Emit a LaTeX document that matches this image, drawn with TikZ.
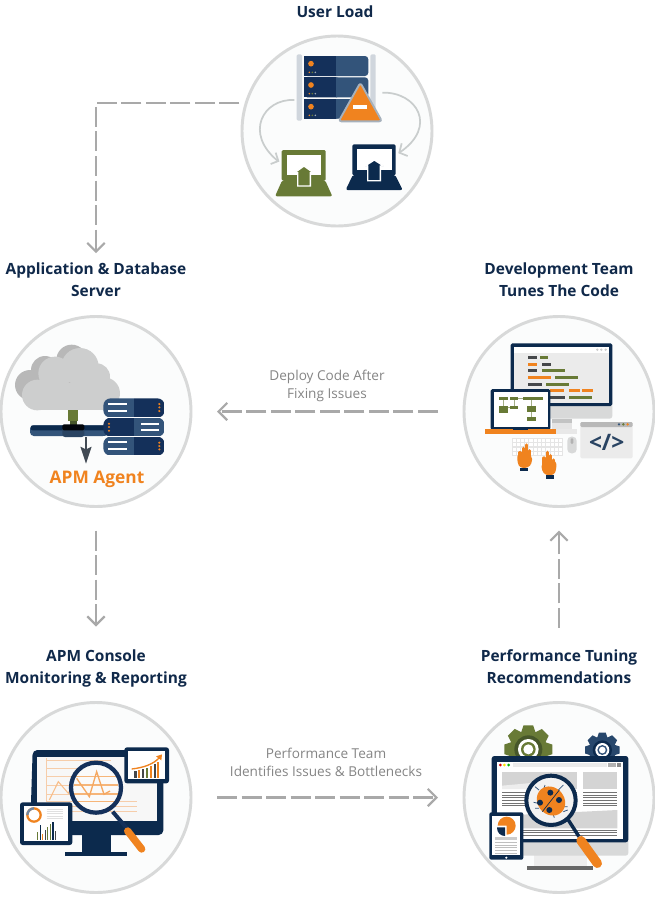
\documentclass[tikz,border=0pt]{standalone}
\usepackage{fontspec}
\setmainfont{Open Sans}
\usetikzlibrary{arrows.meta}
\definecolor{navy}{HTML}{0C2A4D}
\definecolor{midnavy}{HTML}{14305A}
\definecolor{steel}{HTML}{33547A}
\definecolor{olive}{HTML}{687A36}
\definecolor{darkolive}{HTML}{47572A}
\definecolor{apmorange}{HTML}{F0831F}
\definecolor{ringgrey}{HTML}{D8D9D9}
\definecolor{flowgrey}{HTML}{A9A9A9}
\definecolor{labelgrey}{HTML}{858585}
\definecolor{titlenavy}{HTML}{10294A}
\definecolor{curvegrey}{HTML}{C9CDCD}
\definecolor{darkbar}{HTML}{45474A}
\definecolor{paleline}{HTML}{F6CDAA}
\definecolor{ringfill}{HTML}{FBFCFC}
\tikzset{
  ring/.style={circle,draw=ringgrey,line width=2.2pt,fill=ringfill,minimum size=142.5pt,inner sep=0pt,outer sep=0pt},
  title/.style={font=\fontsize{11.6pt}{16.5pt}\selectfont\bfseries,text=titlenavy,align=center,inner sep=0pt},
  flowlabel/.style={font=\fontsize{10.2pt}{13.6pt}\selectfont,text=labelgrey,align=center,inner sep=0pt},
  flow/.style={draw=flowgrey,line width=1.6pt,dash pattern=on 15pt off 3.4pt,-{Straight Barb[length=6.5pt,width=13pt]}},
  crop/.style 2 args={shift={(#1,#2)},x=0.25pt,y=-0.25pt},
}
\newcommand{\rb}[5]{\fill[#1] (#2,#3) rectangle (#4,#5);}
\newcommand{\gearicon}[4]{%
  \begin{scope}[shift={(#1,#2)}]
    \foreach \a in {0,45,...,315}{\fill[#4,rotate=\a] ({-0.2*#3},{-#3}) -- ({0.2*#3},{-#3}) -- ({0.3*#3},{-0.7*#3}) -- ({-0.3*#3},{-0.7*#3}) -- cycle;}
    \fill[#4] (0,0) circle ({0.78*#3});
  \end{scope}}
\newcommand{\handicon}{%
  \foreach \fx/\fy in {195/428,205/415,214/405,224/422}{\draw[apmorange,line width=2.5pt,line cap=round] (\fx,450) -- (\fx,\fy);}
  \fill[apmorange,rounded corners=2.5pt] (187,430) -- (231,436) -- (231,460) -- (219,474) -- (195,474) -- (187,458) -- cycle;
  \rb{navy}{195}{473}{219}{484}}
\begin{document}
\begin{tikzpicture}[x=0.75pt,y=-0.75pt]
\useasboundingbox (0,0) rectangle (655,900);
\fill[white] (0,0) rectangle (655,900);

% circles
\node[ring] (load) at (337,131) {};
\node[ring] (app) at (96,411.5) {};
\node[ring] (dev) at (559,411.5) {};
\node[ring] (console) at (96,797.5) {};
\node[ring] (perf) at (559,797.5) {};

% titles
\node[title] (tload) at (335,12) {User Load};
\node[title] (tapp) at (96,279.5) {Application \& Database\\Server};
\node[title] (tdev) at (559,279.5) {Development Team\\Tunes The Code};
\node[title] (tconsole) at (96,668.3) {APM Console\\Monitoring \& Reporting};
\node[title] (tperf) at (559,666.5) {Performance Tuning\\Recommendations};
\node[flowlabel] (ldeploy) at (327,386) {Deploy Code After\\Fixing Issues};
\node[flowlabel] (lperf) at (326,762) {Performance Team\\Identifies Issues \& Bottlenecks};

% connectors
\draw[flow,shorten <=5pt,shorten >=47.6pt] (load.163) -| (app.north);
\draw[flow,shorten <=19.5pt,shorten >=19.5pt] (dev.west) -- (app.east);
\draw[flow,shorten <=18pt,shorten >=57pt] (app.south) -- (console.north);
\draw[flow,shorten <=19.5pt,shorten >=19.5pt] (console.east) -- (perf.west);
\draw[flow,shorten <=56pt,shorten >=18pt] (perf.north) -- (dev.south);

% ---------- User load icon
\begin{scope}[crop={230}{20}]
  \draw[curvegrey,line width=1.3pt] (193,240) .. controls (100,235) and (40,340) .. (145,424);
  \draw[curvegrey,line width=1.3pt] (122,432) -- (145,423) -- (137,398);
  \draw[curvegrey,line width=1.3pt] (457,218) .. controls (560,215) and (625,320) .. (508,398);
  \draw[curvegrey,line width=1.3pt] (533,408) -- (508,398) -- (515,370);
  \fill[ringgrey!60!steel!45!white,rounded corners=1pt] (200,103) rectangle (216,302);
  \fill[ringgrey!60!steel!45!white,rounded corners=1pt] (421,103) rectangle (437,302);
  \foreach \ya/\yb in {108/168,172/232,237/296}{
    \fill[midnavy,rounded corners=2.5pt] (222,\ya) rectangle (330,\yb);
    \fill[steel,rounded corners=2.5pt] (310,\ya) rectangle (415,\yb);
    \rb{midnavy}{222}{\ya}{318}{\yb}
    \fill[apmorange] (243,\ya+23) circle (8.5);
    \fill[apmorange] (238,\ya+49) circle (2.6);
    \fill[olive] (247,\ya+49) circle (2.6);
    \fill[curvegrey!70!steel] (256,\ya+49) circle (2.6);
  }
  \fill[apmorange,draw=ringgrey!70!steel,line width=1.4pt,line join=round,rounded corners=2pt] (391,188) -- (456,304) -- (326,304) -- cycle;
  \rb{white}{370}{254}{412}{267}
  % green laptop
  \fill[olive,rounded corners=1pt] (155,390) rectangle (287,482);
  \rb{white}{170}{404}{274}{466}
  \fill[olive,rounded corners=1.5pt] (157,480) -- (285,480) -- (307,529) -- (135,529) -- cycle;
  \fill[olive,draw=white,line width=1pt] (222,438) -- (250,458) -- (241,458) -- (241,498) -- (203,498) -- (203,458) -- (194,458) -- cycle;
  % navy laptop
  \fill[navy,rounded corners=1pt] (367,373) rectangle (497,466);
  \rb{white}{382}{386}{485}{450}
  \fill[navy,rounded corners=1.5pt] (369,464) -- (495,464) -- (518,510) -- (347,510) -- cycle;
  \fill[navy,draw=white,line width=1pt] (433,420) -- (461,438) -- (451,438) -- (451,482) -- (413,482) -- (413,438) -- (405,438) -- cycle;
\end{scope}

% ---------- App server icon
\begin{scope}[crop={0}{310}]
  \fill[ringgrey!85!black] (90,225) circle (45) (135,180) circle (42) (215,150) circle (46);
  \rb{ringgrey!85!black}{90}{200}{240}{270}
  \fill[ringgrey!95!black] (112,255) circle (46) (165,190) circle (50) (240,170) circle (56) (312,250) circle (48) (290,200) circle (40);
  \rb{ringgrey!95!black}{112}{220}{312}{301}
  \rb{olive}{205}{300}{235}{333}
  \rb{darkolive}{210}{333}{232}{345}
  \fill[steel,rounded corners=2.8pt] (90,346) rectangle (325,378);
  \fill[navy,rounded corners=1.5pt] (92,346) rectangle (325,361);
  \fill[steel!80!black,rounded corners=2pt] (187,350) rectangle (253,381);
  \fill[black!85!navy,rounded corners=1pt] (187,343) rectangle (253,361);
  \draw[darkbar!80!steel,line width=1pt] (258,382) -- (258,420);
  \fill[darkbar!80!steel] (241,410) -- (258,418) -- (275,410) -- (258,461) -- cycle;
  \foreach \ya/\yb/\sgn in {265/323/1,323/380/-1,380/437/1}{
    \begin{scope}
      \clip[rounded corners=5.5pt] (310,\ya) rectangle (494,\yb);
      \ifnum\sgn=1
        \rb{steel}{310}{\ya}{402}{\yb}
        \rb{midnavy}{402}{\ya}{494}{\yb}
      \else
        \rb{midnavy}{310}{\ya}{402}{\yb}
        \rb{steel}{402}{\ya}{494}{\yb}
      \fi
    \end{scope}
    \draw[white,line width=0.4pt] (310,\yb) -- (494,\yb);
  }
  \foreach \y in {283,303,397,417}{\rb{white}{325}{\y-3}{380}{\y+3}}
  \foreach \y in {342,360}{\rb{white}{423}{\y-3}{478}{\y+3}}
  \foreach \y in {282,292,303,398,408,418}{\fill[apmorange] (478,\y) circle (3.5);}
  \foreach \y in {341,351,362}{\fill[apmorange] (327,\y) circle (3.5);}
  \node[font=\fontsize{13pt}{16pt}\selectfont\bfseries,text=apmorange,inner sep=0pt] (agent) at (291,508) {APM Agent};
\end{scope}

% ---------- Development icon
\begin{scope}[crop={455}{310}]
  \fill[ringgrey,rounded corners=2pt] (175,280) rectangle (472,326);
  \rb{ringgrey!70!white}{290}{326}{350}{358}
  \rb{ringgrey!90!black}{290}{328}{350}{340}
  \rb{ringgrey!60!white}{270}{356}{365}{372}
  \fill[navy,rounded corners=1.2pt] (167,100) rectangle (472,288);
  \rb{black!8}{177}{110}{462}{280}
  \rb{white}{177}{110}{462}{128}
  \foreach \x in {427,439,452}{\fill[black!20] (\x,119) circle (4);}
  \foreach \xa/\xb/\y/\c in {219/246/143/darkbar,255/278/143/olive,219/246/162/apmorange,261/288/162/darkbar,219/246/182/darkbar,261/330/182/olive,219/288/202/apmorange,301/370/202/olive,219/261/222/darkbar,273/342/222/olive,285/327/241/apmorange,342/376/240/apmorange,381/415/240/apmorange,285/330/262/darkbar,342/411/262/olive}{
    \rb{\c}{\xa}{\y-4.5}{\xb}{\y+4.5}}
  \fill[navy,rounded corners=1.2pt] (107,237) rectangle (286,360);
  \rb{white}{116}{246}{278}{350}
  \rb{apmorange}{91}{358}{302}{371}
  \rb{navy}{175}{356}{218}{361}
  \foreach \xa/\ya/\xb/\yb in {132/261/158/271,165/261/190/271,204/261/264/271,132/287/158/308,165/287/190/296,217/287/244/307,217/322/244/332}{
    \rb{olive}{\xa}{\ya}{\xb}{\yb}}
  \draw[olive!60!white,line width=0.6pt] (145,271) -- (145,287) (178,271) -- (178,287) (230,271) -- (230,287) (230,307) -- (230,322) (190,266) -- (204,266) (158,292) -- (165,292);
  \rb{black!10}{170}{384}{325}{438}
  \foreach \i in {0,...,11}{\foreach \j in {0,...,3}{
    \fill[white] ({172.5+\i*12.7},{387+\j*12.8}) rectangle ({182+\i*12.7},{396.5+\j*12.8});}}
  \fill[ringgrey,rounded corners=3pt] (337,380) rectangle (365,430);
  \fill[black!30,rounded corners=1pt] (347,384) rectangle (355,402);
  \fill[black!8,rounded corners=1pt] (376,336) rectangle (533,445);
  \fill[black!28,rounded corners=1pt] (376,336) rectangle (533,351);
  \fill[steel] (492,343) circle (4);
  \fill[olive] (505,343) circle (4);
  \fill[apmorange] (518,343) circle (4);
  \node[font=\fontsize{17pt}{20pt}\selectfont\bfseries,text=steel!80!black,inner sep=0pt] (codetag) at (455,398) {</>};
  \handicon
  \begin{scope}[shift={(491,22)},xscale=-1]
    \handicon
  \end{scope}
\end{scope}

% ---------- Console icon
\begin{scope}[crop={0}{695}]
  \rb{navy}{245}{420}{332}{472}
  \rb{navy}{195}{470}{382}{482}
  \fill[navy,rounded corners=3.5pt] (98,165) -- (490,165) -- (490,420) -- (90,420) -- cycle;
  \rb{black!3}{110}{185}{470}{378}
  \draw[paleline,line width=0.6pt] (138,190) -- (138,320);
  \foreach \y/\xe in {197/333,220/333,245/333,270/333,297/350,320/410,335/412,350/412}{\draw[paleline,line width=0.6pt] (138,\y) -- (\xe,\y);}
  \draw[paleline!80!orange,line width=0.8pt] (148,315) -- (175,260) -- (205,295) -- (230,250);
  \fill[black!2] (288,278) circle (75);
  \foreach \y in {245,270,297,320}{\draw[apmorange!60!white,line width=0.8pt] (222,\y) -- (354,\y);}
  \draw[apmorange!70!white,line width=1pt] (230,250) -- (268,305) -- (290,230) -- (312,298) -- (330,288);
  \draw[midnavy,line width=3.2pt] (288,278) circle (75);
  \draw[midnavy,line width=3pt] (338,350) -- (385,405);
  \draw[apmorange,line width=5.5pt,line cap=round] (383,408) -- (425,462);
  % top right card
  \fill[navy,rounded corners=2pt] (373,157) rectangle (507,265);
  \rb{white}{385}{167}{495}{253}
  \foreach \x/\t/\c in {406/228/darkbar,417/226/apmorange,428/222/darkbar,440/218/olive,452/212/apmorange,464/206/darkbar,473/200/apmorange}{
    \rb{\c}{\x-3.5}{\t}{\x+3.5}{248}}
  \draw[apmorange,line width=1pt] (395,222) .. controls (430,218) and (460,208) .. (478,188);
  \fill[apmorange] (486,178) -- (484,196) -- (468,184) -- cycle;
  % bottom left card
  \fill[navy,rounded corners=2pt] (60,322) rectangle (217,450);
  \rb{white}{72}{333}{205}{437}
  \draw[apmorange,line width=1.7pt] (102,360) circle (20);
  \draw[steel!70!white,line width=1.7pt] (82,360) arc[start angle=180,end angle=270,radius=20];
  \foreach \y in {342,349,356,363,370}{\draw[black!12,line width=0.4pt] (140,\y) -- (190,\y);}
  \foreach \x/\t/\c in {113/410/olive,121/390/navy,128/418/apmorange,136/405/darkbar,143/395/olive,151/388/olive,159/380/navy,167/408/darkbar}{
    \rb{\c}{\x-2}{\t}{\x+2}{436}}
\end{scope}

% ---------- Performance icon
\begin{scope}[crop={455}{695}]
  \gearicon{220}{163}{72}{olive}
  \fill[darkolive] (220,163) circle (42);
  \fill[white] (220,163) circle (31);
  \fill[olive] (220,163) circle (22);
  \fill[white] (220,163) circle (15);
  \gearicon{442}{165}{52}{steel!70!navy}
  \fill[navy] (442,165) circle (29);
  \fill[white] (442,165) circle (21);
  \fill[steel] (442,165) circle (15);
  \fill[white] (442,165) circle (10);
  \rb{black!60}{216}{513}{414}{524}
  \rb{black!7}{237}{480}{395}{513}
  \fill[ringgrey,rounded corners=2pt] (110,430) rectangle (520,482);
  \fill[navy,rounded corners=2pt] (110,183) rectangle (520,442);
  \rb{white}{126}{200}{505}{432}
  \fill[red!85!black] (136,210) circle (4.5);
  \fill[yellow!85!orange] (148,210) circle (4.5);
  \fill[green!70!black] (161,210) circle (4.5);
  \rb{black!8}{175}{205}{455}{216}
  \rb{black!30}{458}{205}{482}{216}
  \rb{black!45}{486}{205}{498}{216}
  \rb{black!17}{141}{232}{365}{282}
  \fill[black!7] (141,282) -- (141,272) -- (250,262) -- (250,282) -- cycle;
  \rb{black!17}{384}{232}{487}{283}
  \fill[black!17] (141,362) -- (487,345) -- (487,400) -- (141,400) -- cycle;
  \foreach \y in {292,300,308,316,324,332}{
    \draw[black!55,line width=0.6pt] (141,\y) -- (365,\y);
    \draw[black!55,line width=0.6pt] (384,\y) -- (487,\y);}
  \foreach \y in {406,413,420}{\draw[black!55,line width=0.6pt] (141,\y) -- (487,\y);}
  \fill[black!5] (288,316) circle (76);
  \draw[navy,line width=3pt] (288,316) circle (74);
  \draw[navy,line width=2.6pt] (340,375) -- (372,425);
  \draw[apmorange,line width=7pt,line cap=round] (378,437) -- (427,505);
  \draw[steel,line width=0.6pt] (252,285) -- (240,275) (325,350) -- (338,345) (236,322) -- (250,325) (265,285) -- (270,270) (310,285) -- (325,270) (240,340) -- (252,340) (325,335) -- (338,335) (295,360) -- (298,368);
  \fill[apmorange,rotate around={-50:(288,318)}] (288,318) ellipse (46 and 40);
  \foreach \x/\y in {286/293,255/323,312/315,283/345}{\fill[navy] (\x,\y) circle (9);}
  \draw[navy,line width=0.5pt] (262,350) -- (313,285);
  % tablet
  \fill[navy,rounded corners=1.5pt] (103,352) rectangle (205,494);
  \rb{white}{112}{362}{196}{480}
  \fill[white] (154,488) circle (3.5);
  \fill[apmorange] (155,392) -- (128,392) arc[start angle=180,end angle=450,radius=27] -- cycle;
  \fill[navy] (150,397) -- (150,423) arc[start angle=90,end angle=180,radius=24] -- (126,397) -- cycle;
  \rb{black!20}{120}{427}{186}{436}
  \foreach \y in {442,450,458,466,474}{\draw[black!25,line width=0.5pt] (120,\y) -- (186,\y);}
\end{scope}
\end{tikzpicture}
\end{document}
